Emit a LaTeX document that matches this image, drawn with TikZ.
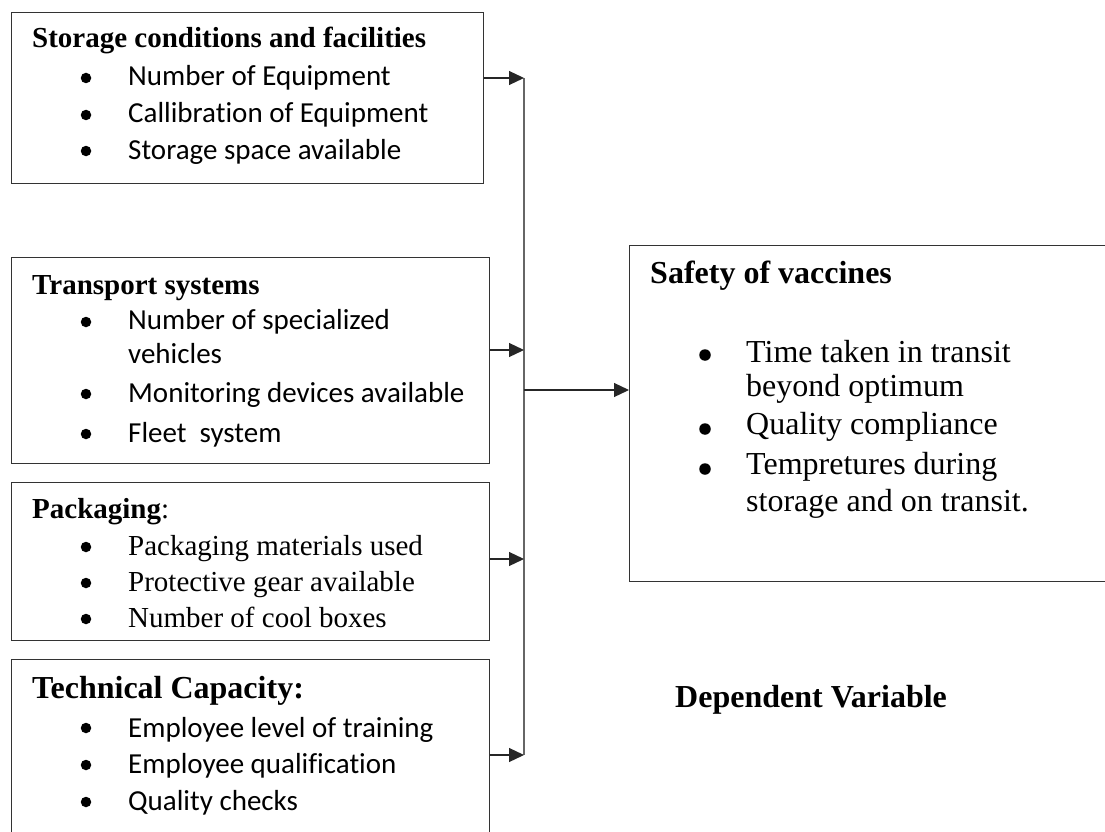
\documentclass[tikz,border=0pt]{standalone}
\usepackage{fontspec}
\setmainfont{Liberation Serif}
\newfontfamily\calfont[Ligatures=NoCommon]{Carlito}
\usepackage{tikz}
\usetikzlibrary{positioning, arrows.meta}

\begin{document}
\begin{tikzpicture}[x=1pt, y=-1pt,
  box/.style={draw=black!80, line width=1.2pt, inner sep=0pt, anchor=north west},
  head/.style={anchor=base west, inner sep=0pt, font=\fontsize{29}{34}\selectfont\bfseries},
  bighead/.style={anchor=base west, inner sep=0pt, font=\fontsize{32}{37}\selectfont\bfseries},
  cal/.style={anchor=base west, inner sep=0pt, font=\fontsize{29}{34}\selectfont\calfont},
  tms/.style={anchor=base west, inner sep=0pt, font=\fontsize{29}{34}\selectfont},
  bigtms/.style={anchor=base west, inner sep=0pt, font=\fontsize{32}{37}\selectfont},
  bul/.style={circle, fill=black, inner sep=0pt, minimum size=10.5pt},
  arr/.style={line width=1.2pt, black!85, -{Triangle[length=15pt, width=14pt]}}]

\useasboundingbox (0,0) rectangle (1105,832);
\clip (0,0) rectangle (1105,832);

\coordinate (bus1) at (524,78);
\coordinate (bus2) at (524,350);
\coordinate (bus3) at (524,559);
\coordinate (bus4) at (524,755);
\coordinate (busmid) at (524,390);

% independent variables
\node[box, minimum width=472, minimum height=171] (store) at (11,12) {};
\node[box, minimum width=478, minimum height=206] (transport) at (11,257) {};
\node[box, minimum width=478, minimum height=158] (pack) at (11,482) {};
\node[box, minimum width=478, minimum height=200] (tech) at (11,659) {};

% dependent variable
\node[box, minimum width=500, minimum height=336] (safety) at (629,245) {};

\node[head] (store-h) at (32,48) {Storage conditions and facilities};
\node[bul] (store-b1) at (86,78) {};
\node[bul] (store-b2) at (86,115) {};
\node[bul] (store-b3) at (86,151) {};
\node[cal] (store-1) at (128,86) {Number of Equipment};
\node[cal] (store-2) at (128,123) {Callibration of Equipment};
\node[cal] (store-3) at (128,159) {Storage space available};

\node[head] (transport-h) at (32,294) {Transport systems};
\node[bul] (transport-b1) at (86,322) {};
\node[bul] (transport-b2) at (86,394) {};
\node[bul] (transport-b3) at (86,434) {};
\node[cal] (transport-1) at (128,329) {Number of specialized};
\node[cal] (transport-1b) at (128,363) {vehicles};
\node[cal] (transport-2) at (128,402) {Monitoring devices available};
\node[cal] (transport-3) at (128,442) {Fleet\ \ system};

\node[tms] (pack-h) at (32,518) {\textbf{Packaging}:};
\node[bul] (pack-b1) at (86,547) {};
\node[bul] (pack-b2) at (86,583) {};
\node[bul] (pack-b3) at (86,619) {};
\node[tms] (pack-1) at (128,555) {Packaging materials used};
\node[tms] (pack-2) at (128,591) {Protective gear available};
\node[tms] (pack-3) at (128,627) {Number of cool boxes};

\node[bighead] (tech-h) at (32,698) {Technical Capacity:};
\node[bul] (tech-b1) at (86,728) {};
\node[bul] (tech-b2) at (86,765) {};
\node[bul] (tech-b3) at (86,802) {};
\node[cal] (tech-1) at (128,737) {Employee level of training};
\node[cal] (tech-2) at (128,773) {Employee qualification};
\node[cal] (tech-3) at (128,810) {Quality checks};

\node[bighead] (safety-h) at (650,283) {Safety of vaccines};
\node[bul, minimum size=11.5pt] (safety-b1) at (705,355) {};
\node[bul, minimum size=11.5pt] (safety-b2) at (705,429) {};
\node[bul, minimum size=11.5pt] (safety-b3) at (705,469) {};
\node[bigtms] (safety-1) at (746,362) {Time taken in transit};
\node[bigtms] (safety-1b) at (746,396) {beyond optimum};
\node[bigtms] (safety-2) at (746,434) {Quality compliance};
\node[bigtms] (safety-3) at (746,474) {Tempretures during};
\node[bigtms] (safety-3b) at (746,511) {storage and on transit.};

\node[bighead] (dep) at (675,707) {Dependent Variable};

% connectors
\draw[line width=1.2pt, black!60] (bus1) -- (bus4);
\draw[arr] (store.east |- bus1) -- (bus1);
\draw[arr] (transport.east |- bus2) -- (bus2);
\draw[arr] (pack.east |- bus3) -- (bus3);
\draw[arr] (tech.east |- bus4) -- (bus4);
\draw[arr] (busmid) -- (safety.west |- busmid);
\end{tikzpicture}
\end{document}
